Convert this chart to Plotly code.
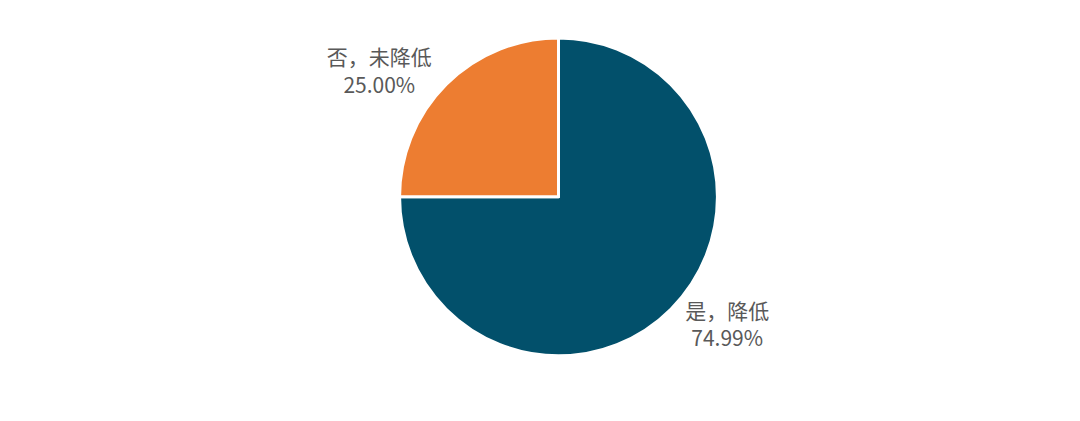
import plotly.graph_objects as go

# Data
labels = ['是，降低', '否，未降低']
shares = [74.99, 25.00]
colors = ['#02506B', '#ED7D31']

fig = go.Figure(go.Pie(
    labels=labels,
    values=shares,
    sort=False,
    direction='clockwise',
    rotation=0,
    marker=dict(colors=colors, line=dict(color='white', width=3)),
    texttemplate='%{label}<br>%{value:.2f}%',
    textposition='outside',
    textfont=dict(family='Noto Sans CJK SC', size=21, color='#595959'),
    showlegend=False,
    hoverinfo='label+value',
    domain=dict(x=[0.0, 1.0], y=[0.174, 0.929]),
))

fig.update_layout(
    width=1080, height=421,
    margin=dict(l=0, r=18, t=0, b=0),
    paper_bgcolor='white',
    plot_bgcolor='white',
)

fig.write_html('out.html')
